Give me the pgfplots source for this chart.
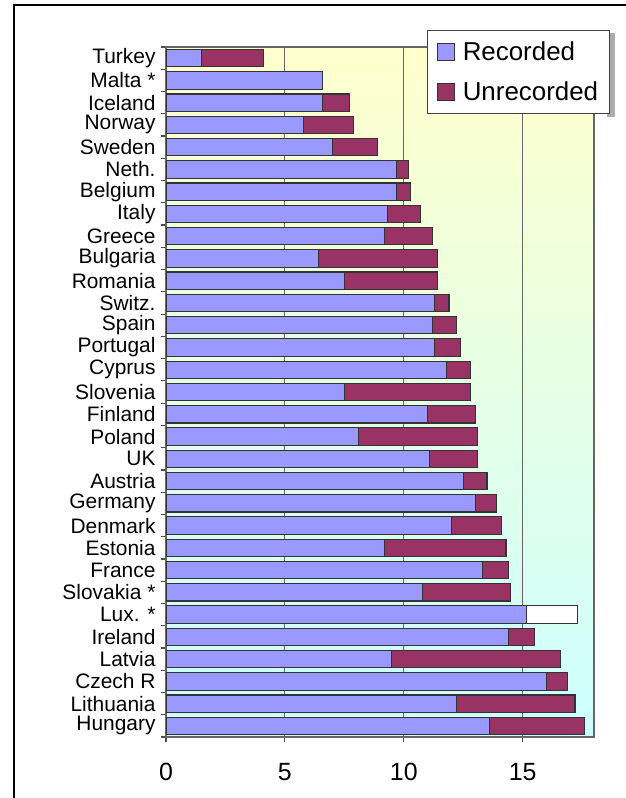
\documentclass[border=0pt]{standalone}
\usepackage{pgfplots}
\usepackage{pgfplotstable}
\pgfplotsset{compat=1.18}
\usepackage{fontspec}
\setmainfont{Liberation Sans}
\newfontfamily\lab{Liberation Sans}

\definecolor{recblue}{RGB}{153,153,255}
\definecolor{unrec}{RGB}{153,51,102}
\definecolor{bgtop}{RGB}{255,255,204}
\definecolor{bgbot}{RGB}{204,255,255}

% pos = row from the top, values in litres
\pgfplotstableread{
pos rec unrec lux
0  1.5  2.6 0
1  6.6  0   0
2  6.6  1.1 0
3  5.8  2.1 0
4  7.0  1.9 0
5  9.7  0.5 0
6  9.7  0.6 0
7  9.3  1.4 0
8  9.2  2.0 0
9  6.4  5.0 0
10 7.5  3.9 0
11 11.3 0.6 0
12 11.2 1.0 0
13 11.3 1.1 0
14 11.8 1.0 0
15 7.5  5.3 0
16 11.0 2.0 0
17 8.1  5.0 0
18 11.1 2.0 0
19 12.5 1.0 0
20 13.0 0.9 0
21 12.0 2.1 0
22 9.2  5.1 0
23 13.3 1.1 0
24 10.8 3.7 0
25 15.15 0  2.15
26 14.4 1.1 0
27 9.5  7.1 0
28 16.0 0.9 0
29 12.2 5.0 0
30 13.6 4.0 0
}\data

\begin{document}
\begin{tikzpicture}[x=1bp,y=1bp]
\path[use as bounding box] (0,0) rectangle (626,-798);
\draw[line width=2bp] (14,-805) -- (14,-5) -- (640,-5);
% legend shadow
\fill[gray!65] (607,-33) rectangle (615,-117);
\begin{axis}[
  at={(166bp,-737bp)}, anchor=south west,
  scale only axis, width=428bp, height=690bp,
  xbar stacked, bar width=0.78,
  xmin=0, xmax=18, ymin=-0.5, ymax=30.5,
  y dir=reverse,
  axis background/.style={top color=bgtop, bottom color=bgbot},
  axis line style={draw=black!60, line width=1.2bp},
  xtick={0,5,10,15},
  xtick pos=bottom, ytick pos=left,
  xmajorgrids,
  grid style={draw=black!60, line width=1.2bp},
  tick align=outside,
  major tick length=5bp,
  tick style={draw=black!70, line width=1.2bp},
  ytick={-0.5,0.5,...,30.5},
  yticklabels={},
  extra y ticks={0,...,30},
  extra y tick labels={Turkey,Malta *,Iceland,Norway,Sweden,Neth.,Belgium,Italy,Greece,Bulgaria,Romania,Switz.,Spain,Portugal,Cyprus,Slovenia,Finland,Poland,UK,Austria,Germany,Denmark,Estonia,France,Slovakia *,Lux. *,Ireland,Latvia,Czech R,Lithuania,Hungary},
  extra y tick style={major tick length=0pt, tick style={draw=none}},
  yticklabel style={font=\lab\fontsize{21}{21}\selectfont, xshift=-7bp},
  xticklabel style={font=\lab\fontsize{25}{25}\selectfont, yshift=-18bp},
  /pgf/number format/assume math mode=true,
  every axis plot/.append style={draw=black!80, line width=1.1bp},
  legend style={at={(0.61,1.0246)}, anchor=north west,
    draw=black!75, line width=1.2bp, fill=white,
    font=\lab\fontsize{26}{26}\selectfont,
    row sep=16bp, column sep=6bp,
    inner xsep=9bp, inner ysep=9bp},
  legend cell align=left,
  legend image code/.code={\draw[#1, line width=1.1bp] (0bp,-8.5bp) rectangle (17bp,8.5bp);},
]
\addplot[fill=recblue] table[x=rec,y=pos]{\data};
\addplot[fill=unrec] table[x=unrec,y=pos]{\data};
\addplot[fill=white] table[x=lux,y=pos]{\data};
\legend{Recorded,Unrecorded}
\end{axis}
\end{tikzpicture}
\end{document}
